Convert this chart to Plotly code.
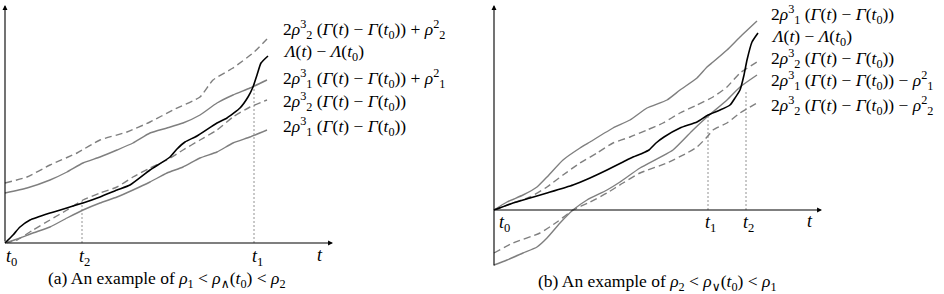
import plotly.graph_objects as go

# ---------------- Panel (a) data (x: time units from t0, y: value units) ----------------
a_top_dash_x = [0, 22, 45, 72, 95, 122, 145, 168, 195, 208, 228, 248, 262]
a_top_dash_y = [60, 66, 78, 90, 103, 111, 121, 133, 146, 163, 175, 190, 204]

a_up_solid_x = [0, 22, 45, 62, 78, 95, 112, 128, 145, 162, 178, 195, 212, 228, 245, 262]
a_up_solid_y = [50, 55, 63, 71, 80, 86, 93, 100, 110, 115, 120, 128, 140, 148, 155, 163]

a_lam_x = [0, 8, 15, 25, 45, 78, 95, 112, 125, 145, 165, 172, 180, 192, 212, 222, 235, 243, 248, 252, 256, 263]
a_lam_y = [0, 8, 16, 23, 30, 40, 46, 53, 58, 73, 86, 94, 101, 107, 120, 125, 135, 146, 156, 168, 180, 187]

a_low_dash_x = [0, 12, 28, 45, 62, 78, 95, 112, 128, 145, 162, 178, 195, 212, 228, 245, 262]
a_low_dash_y = [0, 3, 13, 23, 33, 43, 50, 56, 66, 75, 83, 93, 103, 113, 126, 136, 143]

a_low_solid_x = [0, 15, 28, 45, 62, 78, 95, 112, 128, 145, 162, 178, 195, 212, 228, 245, 262]
a_low_solid_y = [0, 5, 10, 16, 25, 33, 40, 46, 53, 61, 70, 76, 85, 91, 100, 106, 113]

a_t2, a_t2_h = 77, 42
a_t1, a_t1_h = 249, 156

# ---------------- Panel (b) data ----------------
b_top_solid_x = [0, 13, 29, 43, 53, 69, 86, 96, 119, 136, 153, 173, 186, 203, 213, 219, 233, 246, 263]
b_top_solid_y = [0, 8, 15, 23, 33, 50, 62, 68, 82, 90, 102, 110, 120, 132, 143, 148, 160, 173, 189]

b_lam_x = [0, 19, 36, 53, 79, 96, 113, 129, 139, 149, 155, 162, 170, 186, 203, 214, 226, 236, 241, 246, 250, 253, 258, 264]
b_lam_y = [0, 7, 12, 17, 25, 32, 40, 48, 53, 57, 60, 67, 73, 82, 88, 95, 100, 105, 112, 120, 135, 150, 168, 177]

b_up_dash_x = [0, 19, 36, 53, 69, 86, 103, 119, 136, 153, 169, 186, 203, 219, 233, 246, 263]
b_up_dash_y = [0, 7, 13, 23, 35, 47, 57, 67, 73, 80, 87, 97, 105, 113, 123, 137, 148]

b_low_solid_x = [0, 13, 29, 43, 53, 66, 79, 93, 113, 126, 146, 179, 199, 213, 233, 246, 263]
b_low_solid_y = [-55, -50, -43, -37, -28, -13, 0, 10, 20, 28, 42, 60, 80, 93, 110, 123, 135]

b_low_dash_x = [0, 19, 46, 63, 79, 96, 113, 129, 146, 173, 193, 203, 213, 219, 233, 246, 263]
b_low_dash_y = [-43, -33, -23, -12, 0, 8, 17, 27, 37, 47, 57, 63, 73, 80, 87, 97, 107]

b_t1, b_t1_h = 214, 95
b_t2, b_t2_h = 252, 120

# ---------------- text ----------------
labels_a = [
    "2<i>ρ</i><sup>3</sup><sub>2</sub> (<i>Γ</i>(<i>t</i>) − <i>Γ</i>(<i>t</i><sub>0</sub>)) + <i>ρ</i><sup>2</sup><sub>2</sub>",
    "<i>Λ</i>(<i>t</i>) − <i>Λ</i>(<i>t</i><sub>0</sub>)",
    "2<i>ρ</i><sup>3</sup><sub>1</sub> (<i>Γ</i>(<i>t</i>) − <i>Γ</i>(<i>t</i><sub>0</sub>)) + <i>ρ</i><sup>2</sup><sub>1</sub>",
    "2<i>ρ</i><sup>3</sup><sub>2</sub> (<i>Γ</i>(<i>t</i>) − <i>Γ</i>(<i>t</i><sub>0</sub>))",
    "2<i>ρ</i><sup>3</sup><sub>1</sub> (<i>Γ</i>(<i>t</i>) − <i>Γ</i>(<i>t</i><sub>0</sub>))",
]
labels_b = [
    "2<i>ρ</i><sup>3</sup><sub>1</sub> (<i>Γ</i>(<i>t</i>) − <i>Γ</i>(<i>t</i><sub>0</sub>))",
    "<i>Λ</i>(<i>t</i>) − <i>Λ</i>(<i>t</i><sub>0</sub>)",
    "2<i>ρ</i><sup>3</sup><sub>2</sub> (<i>Γ</i>(<i>t</i>) − <i>Γ</i>(<i>t</i><sub>0</sub>))",
    "2<i>ρ</i><sup>3</sup><sub>1</sub> (<i>Γ</i>(<i>t</i>) − <i>Γ</i>(<i>t</i><sub>0</sub>)) − <i>ρ</i><sup>2</sup><sub>1</sub>",
    "2<i>ρ</i><sup>3</sup><sub>2</sub> (<i>Γ</i>(<i>t</i>) − <i>Γ</i>(<i>t</i><sub>0</sub>)) − <i>ρ</i><sup>2</sup><sub>2</sub>",
]
caption_a = "(a) An example of <i>ρ</i><sub>1</sub> &lt; <i>ρ</i><sub>∧</sub>(<i>t</i><sub>0</sub>) &lt; <i>ρ</i><sub>2</sub>"
caption_b = "(b) An example of <i>ρ</i><sub>2</sub> &lt; <i>ρ</i><sub>∨</sub>(<i>t</i><sub>0</sub>) &lt; <i>ρ</i><sub>1</sub>"

GRAY = "#7f7f7f"
BLACK = "#000000"
DASH = "7px,4px"
FONT = "Liberation Serif, Times New Roman, DejaVu Serif, serif"
W, H = 944, 294

fig = go.Figure()


def line(x, y, color, dash, xa, ya, width=1.4):
    fig.add_trace(go.Scatter(x=x, y=y, mode="lines", xaxis=xa, yaxis=ya,
                             line=dict(color=color, width=width, dash=dash, shape="spline", smoothing=0.5),
                             hoverinfo="skip", cliponaxis=False))


def vline(x, h, xa, ya):
    fig.add_trace(go.Scatter(x=[x, x], y=[0, h], mode="lines", xaxis=xa, yaxis=ya,
                             line=dict(color="#777777", width=0.8, dash="2px,2px"),
                             hoverinfo="skip"))


# panel a
vline(a_t2, a_t2_h, "x", "y")
vline(a_t1, a_t1_h, "x", "y")
line(a_top_dash_x, a_top_dash_y, GRAY, DASH, "x", "y")
line(a_up_solid_x, a_up_solid_y, GRAY, "solid", "x", "y")
line(a_low_dash_x, a_low_dash_y, GRAY, DASH, "x", "y")
line(a_low_solid_x, a_low_solid_y, GRAY, "solid", "x", "y")
line(a_lam_x, a_lam_y, BLACK, "solid", "x", "y", 1.6)

# panel b
vline(b_t1, b_t1_h, "x2", "y2")
vline(b_t2, b_t2_h, "x2", "y2")
line(b_top_solid_x, b_top_solid_y, GRAY, "solid", "x2", "y2")
line(b_up_dash_x, b_up_dash_y, GRAY, DASH, "x2", "y2")
line(b_low_solid_x, b_low_solid_y, GRAY, "solid", "x2", "y2")
line(b_low_dash_x, b_low_dash_y, GRAY, DASH, "x2", "y2")
line(b_lam_x, b_lam_y, BLACK, "solid", "x2", "y2", 1.6)

# axes lines (arrows)
arrow = dict(text="", showarrow=True, arrowhead=2, arrowsize=0.9, arrowwidth=1.1,
             arrowcolor="black", standoff=0, startstandoff=0)
anns = [
    dict(xref="x", yref="y", axref="x", ayref="y", x=328, y=0, ax=0, ay=0, **arrow),
    dict(xref="x", yref="y", axref="x", ayref="y", x=0, y=238, ax=0, ay=0, **arrow),
    dict(xref="x2", yref="y2", axref="x2", ayref="y2", x=328, y=0, ax=0, ay=0, **arrow),
    dict(xref="x2", yref="y2", axref="x2", ayref="y2", x=0, y=205, ax=0, ay=-57, **arrow),
]


def txt(px, py, s, size=14, xanchor="center"):
    anns.append(dict(xref="paper", yref="paper", x=px / W, y=1 - py / H, text=s,
                     showarrow=False, xanchor=xanchor, yanchor="middle",
                     font=dict(family=FONT, size=size, color="black")))


# tick labels
txt(11, 257, "<i>t</i><sub>0</sub>", 18)
txt(84, 257, "<i>t</i><sub>2</sub>", 18)
txt(257, 257, "<i>t</i><sub>1</sub>", 18)
txt(320, 255, "<i>t</i>", 18)
txt(504, 223, "<i>t</i><sub>0</sub>", 18)
txt(710, 223, "<i>t</i><sub>1</sub>", 18)
txt(748, 223, "<i>t</i><sub>2</sub>", 18)
txt(810, 221, "<i>t</i>", 18)

# captions
txt(167, 279, caption_a, 17.5)
txt(657, 282, caption_b, 17.5)

# curve labels
for s, py in zip(labels_a, [29, 53, 78, 102, 126]):
    txt(281, py, s, 17.5, "left")
for s, py in zip(labels_b, [14, 37, 58, 81, 105]):
    txt(769, py, s, 17.5, "left")

ax_common = dict(showgrid=False, zeroline=False, showticklabels=False, showline=False, ticks="")
fig.update_layout(
    width=W, height=H, margin=dict(l=0, r=0, t=0, b=0),
    paper_bgcolor="white", plot_bgcolor="white", showlegend=False,
    font=dict(family=FONT),
    xaxis=dict(domain=[0 / W, 340 / W], range=[-5, 335], **ax_common),
    yaxis=dict(domain=[(H - 250) / H, 1], range=[-7, 243], **ax_common),
    xaxis2=dict(domain=[485 / W, 830 / W], range=[-9, 336], anchor="y2", **ax_common),
    yaxis2=dict(domain=[(H - 272) / H, 1], range=[-62, 210], anchor="x2", **ax_common),
    annotations=anns,
)

fig.write_html("out.html")
